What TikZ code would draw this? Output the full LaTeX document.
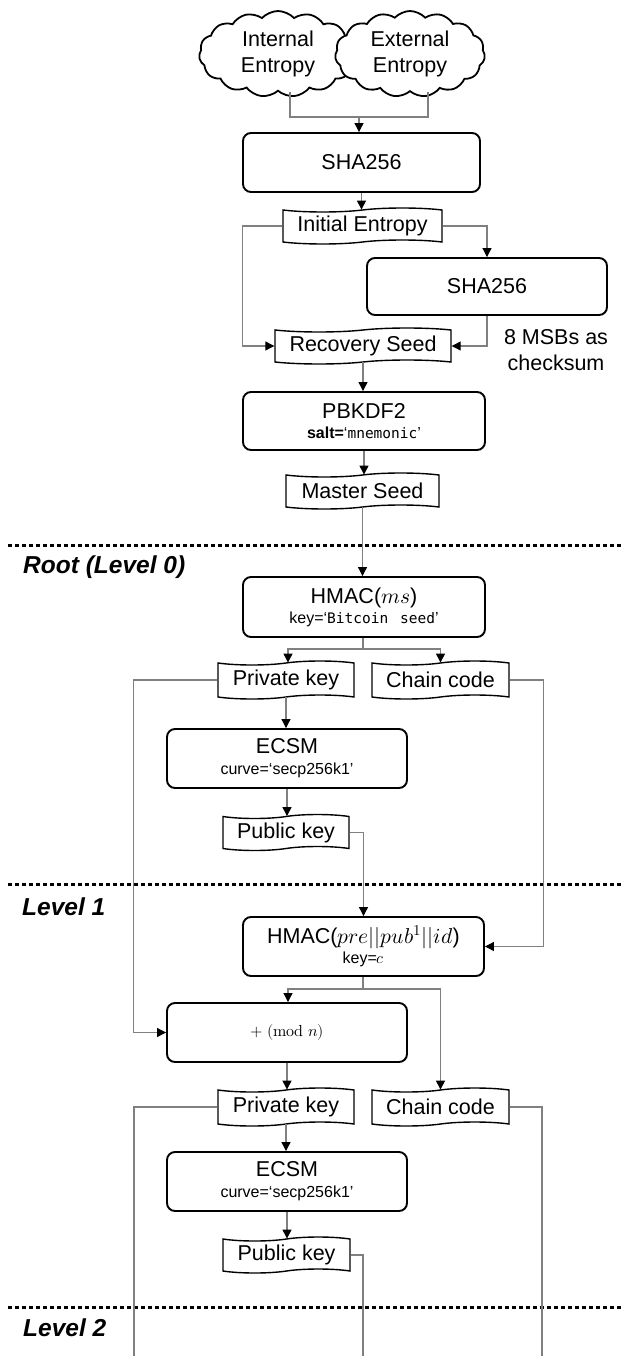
\documentclass[tikz,border=0pt]{standalone}
\usepackage{unicode-math}
\setmainfont{Liberation Sans}
\setmonofont{DejaVu Sans Mono}
\setmathfont{Latin Modern Math}
\usetikzlibrary{shapes.symbols,arrows.meta}
\definecolor{linegray}{HTML}{808080}
\newcommand\FBig{\fontsize{21.5}{23}\selectfont}
\newcommand\FCloud{\fontsize{21.5}{26}\selectfont}
\newcommand\FSmall{\fontsize{16}{17}\selectfont}
\newcommand\FMono{\fontsize{14.5}{17}\selectfont\ttfamily}
\newcommand\FLevel{\fontsize{24.5}{26}\selectfont\bfseries\itshape}
\begin{document}
\begin{tikzpicture}[x=1pt,y=-1pt,
  box/.style={draw, line width=1.9pt, rounded corners=8pt, minimum height=59pt, align=center, inner sep=0pt, font=\FBig},
  wavy/.style={tape, draw, line width=1.4pt, minimum height=36pt, inner sep=0pt, tape bend height=4pt, font=\FBig},
  conn/.style={draw=linegray, line width=1.1pt},
  arr/.style={conn, -{Triangle[length=9pt,width=9pt,color=black]}},
  sepline/.style={line width=3pt, dash pattern=on 3.5pt off 3.5pt},
  lvl/.style={anchor=west, font=\FLevel, inner sep=0pt},
  cld/.style={cloud, draw, fill=white, line width=1.8pt, cloud puffs=15, cloud puff arc=95, aspect=1.7, inner sep=0pt, align=center, font=\FCloud},
]
\useasboundingbox (0,0) rectangle (623,1356);

% separators and level labels
\draw[sepline] (8,545) -- (623,545);
\draw[sepline] (8,884) -- (623,884);
\draw[sepline] (8,1307) -- (623,1307);
\node[lvl] (l0) at (23,567) {Root (Level 0)};
\node[lvl] (l1) at (22,907) {Level 1};
\node[lvl] (l2) at (23,1328) {Level 2};

% clouds
\node[cld, minimum width=158pt, minimum height=86pt] (c1) at (278,54) {Internal\\Entropy};
\node[cld, minimum width=150pt, minimum height=86pt] (c2) at (410,54) {External\\Entropy};

% seed generation
\node[box, minimum width=237pt] (sha1) at (361.5,162.5) {SHA256};
\node[wavy, minimum width=159pt] (ie) at (362.5,226) {Initial Entropy};
\node[box, minimum width=240pt, minimum height=57pt] (sha2) at (487,286.5) {SHA256};
\node[wavy, minimum width=176pt] (rs) at (363,346) {Recovery Seed};
\node[font=\FCloud, align=center, inner sep=0pt] (msb) at (556,350.5) {8 MSBs as\\checksum};
\node[box, minimum width=242pt, minimum height=58pt] (pb) at (364,421) {PBKDF2\\[-3pt]{\FSmall\bfseries salt=}{\FSmall ‘}{\FMono mnemonic}{\FSmall ’}};
\node[wavy, minimum width=153pt] (ms) at (362.5,491) {Master Seed};

% root level
\node[box, minimum width=242pt, minimum height=60pt] (h1) at (364,607) {HMAC($ms$)\\[-3pt]{\FSmall key=‘}{\FMono Bitcoin\hspace{3pt} seed}{\FSmall ’}};
\node[wavy, minimum width=136pt, minimum height=38pt] (pk1) at (286,680) {Private key};
\node[wavy, minimum width=137pt, minimum height=38pt] (cc1) at (440.5,680) {Chain code};
\node[box, minimum width=240pt] (ec1) at (287,758.5) {ECSM\\[-2pt]{\FSmall curve=‘secp256k1’}};
\node[wavy, minimum width=126pt] (pu1) at (286,832.5) {Public key};

% level 1
\node[box, minimum width=241pt] (h2) at (363.5,946.5) {HMAC($pre||pub^1||id$)\\[-3pt]{\FSmall key=$c$}};
\node[box, minimum width=240pt] (mod) at (287,1032.5) {\FSmall $+\ (\symup{mod}\ n)$};
\node[wavy, minimum width=136pt, minimum height=38pt] (pk2) at (286,1107) {Private key};
\node[wavy, minimum width=137pt, minimum height=38pt] (cc2) at (440.5,1107) {Chain code};
\node[box, minimum width=240pt] (ec2) at (287,1181.5) {ECSM\\[-2pt]{\FSmall curve=‘secp256k1’}};
\node[wavy, minimum width=127pt] (pu2) at (286.5,1255) {Public key};

% coordinates
\coordinate (j0) at (359,117);
\coordinate (s1) at (363,649);
\coordinate (s2) at (363,989);
\coordinate (b1) at (134,1356);
\coordinate (b2) at (363,1356);
\coordinate (b3) at (542,1356);

% connectors
\draw[conn] ([xshift=12pt]c1.south) |- (j0) -| ([xshift=18pt]c2.south);
\draw[arr] (j0) -- (j0 |- sha1.north);
\draw[arr] (sha1.south) -- (sha1.south |- ie.north);
\draw[arr] (ie.west) -- ++(-40,0) |- (rs.west);
\draw[arr] (ie.east) -| (sha2.north);
\draw[arr] (sha2.south) |- (rs.east);
\draw[arr] (rs.south) -- (rs.south |- pb.north);
\draw[arr] (pb.south) -- (pb.south |- ms.north);
\draw[arr] (ms.south) -- (ms.south |- h1.north);
\draw[conn] (s1 |- h1.south) -- (s1);
\draw[arr] (s1) -| ([xshift=2pt]pk1.north);
\draw[arr] (s1) -| (cc1.north);
\draw[arr] (pk1.west) -- ++(-84,0) |- (mod.west);
\draw[arr] (cc1.east) -- ++(34,0) |- (h2.east);
\draw[arr] (pk1.south) -- (pk1.south |- ec1.north);
\draw[arr] (ec1.south) -- (ec1.south |- pu1.north);
\draw[arr] (pu1.east) -| (h2.north);
\draw[conn] (s2 |- h2.south) -- (s2);
\draw[arr] (s2) -| ([xshift=1pt]mod.north);
\draw[arr] (s2) -| (cc2.north);
\draw[arr] (mod.south) -- (mod.south |- pk2.north);
\draw[conn] (pk2.west) -| (b1);
\draw[conn] (cc2.east) -| (b3);
\draw[arr] (pk2.south) -- (pk2.south |- ec2.north);
\draw[arr] (ec2.south) -- (ec2.south |- pu2.north);
\draw[conn] (pu2.east) -| (b2);
\end{tikzpicture}
\end{document}
